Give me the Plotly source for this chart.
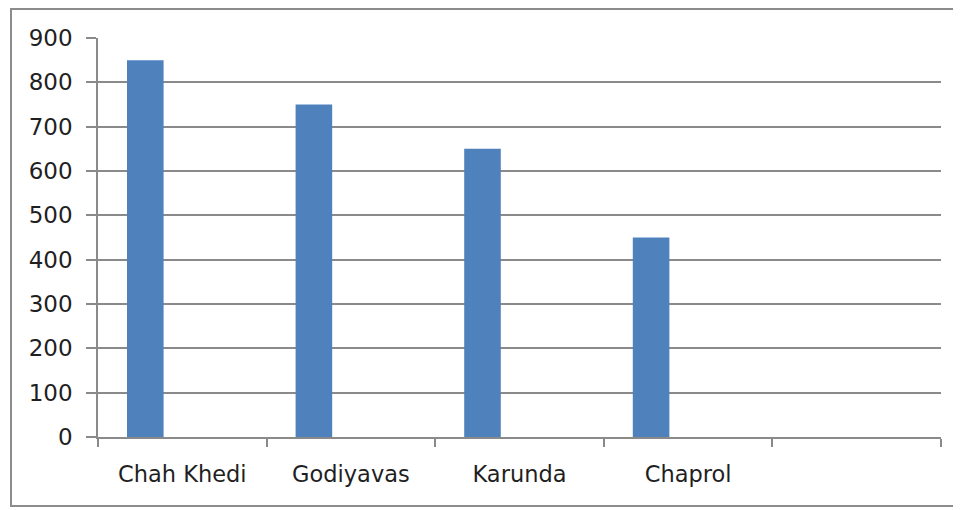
import plotly.graph_objects as go

categories = ["Chah Khedi", "Godiyavas", "Karunda", "Chaprol", " "]
values = [850, 750, 650, 450, None]
y_ticks = [0, 100, 200, 300, 400, 500, 600, 700, 800, 900]

GRAY = "#8a8a8a"
XFONT = dict(family="DejaVu Sans", size=22.5, color="#1f1f1f")
YFONT = dict(family="DejaVu Sans", size=23, color="#1f1f1f")

fig = go.Figure()
fig.add_trace(go.Bar(
    x=categories, y=values,
    marker=dict(color="#4f81bd", line=dict(width=0)),
    width=0.217, offset=-0.328,
    showlegend=False,
))

# page body has an 8px margin, so figure coords = window coords - 8
W, H = 953, 502
L, R, T, B = 90, 20, 30, 73
pw, ph = W - L - R, H - T - B

fig.update_layout(
    width=W, height=H,
    margin=dict(l=L, r=R, t=T, b=B),
    paper_bgcolor="white", plot_bgcolor="white",
    font=XFONT,
    xaxis=dict(
        type="category", categoryorder="array", categoryarray=categories,
        range=[-0.5, len(categories) - 0.5],
        tickson="boundaries", ticks="outside", ticklen=8, tickwidth=1.5, tickcolor=GRAY,
        showline=True, linecolor=GRAY, linewidth=1.5,
        showgrid=False, tickfont=XFONT, ticklabelstandoff=16,
    ),
    yaxis=dict(
        range=[0, 900], tickvals=y_ticks,
        ticks="outside", ticklen=10, tickwidth=1.5, tickcolor=GRAY,
        showline=True, linecolor=GRAY, linewidth=1.5,
        showgrid=True, gridcolor=GRAY, gridwidth=1.5,
        zeroline=False, tickfont=YFONT, ticklabelstandoff=9,
    ),
    shapes=[dict(
        type="rect", xref="paper", yref="paper",
        x0=(3 - L) / pw, x1=(965 - L) / pw,
        y0=(H - B - 498) / ph, y1=(H - B - 1) / ph,
        line=dict(color="#8c8c8c", width=2), layer="below",
    )],
)

fig.write_html("out.html")
